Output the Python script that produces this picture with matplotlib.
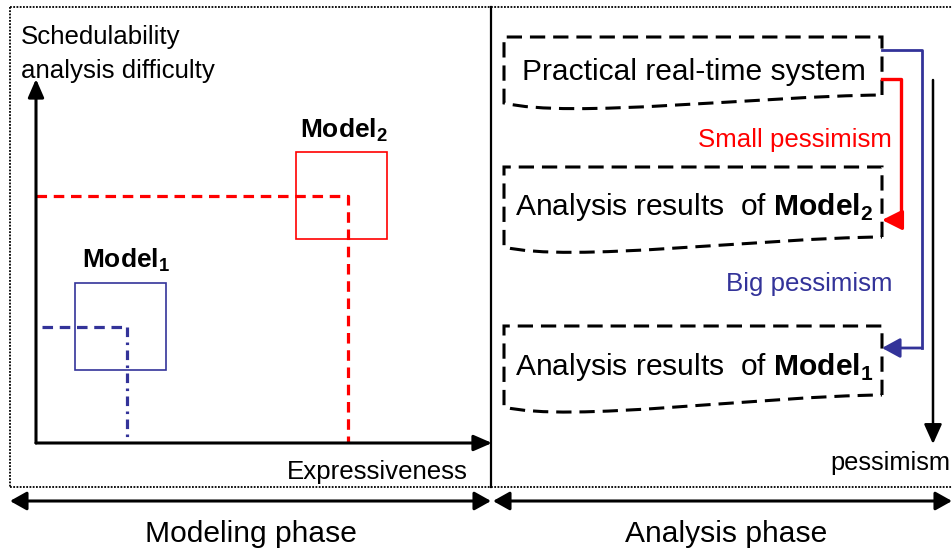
import matplotlib
matplotlib.use("Agg")
import matplotlib.pyplot as plt
from matplotlib.path import Path
from matplotlib.patches import PathPatch, Rectangle

plt.rcParams['font.family'] = ['Liberation Sans', 'DejaVu Sans']
plt.rcParams['mathtext.fontset'] = 'custom'
plt.rcParams['mathtext.rm'] = 'Liberation Sans'
plt.rcParams['mathtext.bf'] = 'Liberation Sans:bold'

RED = '#ff0000'
BLUE = '#333399'

# model boxes: (left, top, right, bottom), level point (x, y)
model_names = [r'$\mathbf{Model}_{\mathbf{1}}$', r'$\mathbf{Model}_{\mathbf{2}}$']
model_boxes = [(75, 283, 166, 370), (296, 152, 387, 239)]
model_points = [(127, 327), (348, 196)]
model_label_pos = [(82, 268), (300, 137)]

# document shapes on the right: top, right-bottom, left-bottom
doc_texts = ['Practical real-time system',
             r'Analysis results  of $\mathbf{Model}_{\mathbf{2}}$',
             r'Analysis results  of $\mathbf{Model}_{\mathbf{1}}$']
doc_text_pos = [(522, 80), (515, 215), (515, 375)]
doc_top = [37, 167, 326]
doc_rb = [95, 237, 395]
doc_lb = [103, 247, 407]
doc_left, doc_right = 504, 882

fig = plt.figure(figsize=(9.52, 5.5), dpi=100)
ax = fig.add_axes([0, 0, 1, 1])
ax.set_xlim(0, 952)
ax.set_ylim(550, 0)
ax.axis('off')

# frames
dot = dict(color='k', lw=1.3, ls=(0, (1, 0.8)))
ax.plot([10, 952], [7, 7], **dot)
ax.plot([10, 952], [487, 487], **dot)
ax.plot([10, 10], [7, 487], **dot)
ax.plot([491, 491], [7, 487], color='k', lw=1.6)

def arrow(x0, y0, x1, y1, color='k', lw=1.8, hl=0.55, hw=0.25, style='-|>'):
    ax.annotate('', xy=(x1, y1), xytext=(x0, y0),
                arrowprops=dict(arrowstyle='%s,head_length=%s,head_width=%s' % (style, hl, hw),
                                color=color, lw=lw, shrinkA=0, shrinkB=0,
                                mutation_scale=20))

# axes of the left diagram
arrow(36, 443, 36, 79, lw=2.2, hl=0.55, hw=0.24)
arrow(36, 443, 492, 443, lw=2.2, hl=0.55, hw=0.24)
ax.text(21, 44, 'Schedulability', fontsize=18.6)
ax.text(21, 78, 'analysis difficulty', fontsize=18.6)
ax.text(287, 479, 'Expressiveness', fontsize=18.6)

# models
colors = [BLUE, RED]
for i in range(2):
    l, t, r, b = model_boxes[i]
    ax.add_patch(Rectangle((l, t), r - l, b - t, fill=False, ec=colors[i], lw=1.2))
    ax.text(model_label_pos[i][0], model_label_pos[i][1], model_names[i], fontsize=19)
px, py = model_points[1]
ax.plot([36, px, px], [py, py, 443], color=RED, lw=2.3, ls=(0, (3.3, 2.1)))
px, py = model_points[0]
ax.plot([42, px], [py, py], color=BLUE, lw=2.3, ls=(0, (3.3, 2.1)))
ax.plot([px, px], [py, 443], color=BLUE, lw=2.3, ls=(0, (3, 1.7, 0.8, 1.7)))

# documents
for i in range(3):
    verts = [(doc_right, doc_rb[i]), (doc_right, doc_top[i]), (doc_left, doc_top[i]),
             (doc_left, doc_lb[i]), (570, doc_lb[i] + 16), (760, doc_rb[i] + 1),
             (doc_right, doc_rb[i])]
    codes = [Path.MOVETO, Path.LINETO, Path.LINETO, Path.LINETO,
             Path.CURVE4, Path.CURVE4, Path.CURVE4]
    ax.add_patch(PathPatch(Path(verts, codes), fill=False, ec='k', lw=2.2,
                           ls=(0, (5, 2.6))))
    ax.text(doc_text_pos[i][0], doc_text_pos[i][1], doc_texts[i], fontsize=21.6)

# connectors
ax.plot([882, 901, 901], [79, 79, 220], color=RED, lw=2.4)
arrow(901, 220, 882, 220, color=RED, lw=2.4, hl=0.6, hw=0.3)
ax.text(892, 147, 'Small pessimism', fontsize=18.6, color=RED, ha='right')
ax.plot([882, 922, 922], [50, 50, 348], color=BLUE, lw=2)
arrow(922, 348, 882, 348, color=BLUE, lw=2, hl=0.55, hw=0.3)
ax.text(892, 291, 'Big pessimism', fontsize=18.6, color=BLUE, ha='right')

arrow(933, 80, 933, 444, lw=1.8, hl=0.6, hw=0.27)
ax.text(950, 470, 'pessimism', fontsize=18.3, ha='right')

# phases
arrow(10, 501, 491, 501, lw=2.2, hl=0.5, hw=0.28, style='<|-|>')
arrow(493, 501, 952, 501, lw=2.2, hl=0.5, hw=0.28, style='<|-|>')
ax.text(251, 542, 'Modeling phase', fontsize=21.6, ha='center')
ax.text(726, 542, 'Analysis phase', fontsize=21.6, ha='center')

fig.savefig('out.png', dpi=100)
